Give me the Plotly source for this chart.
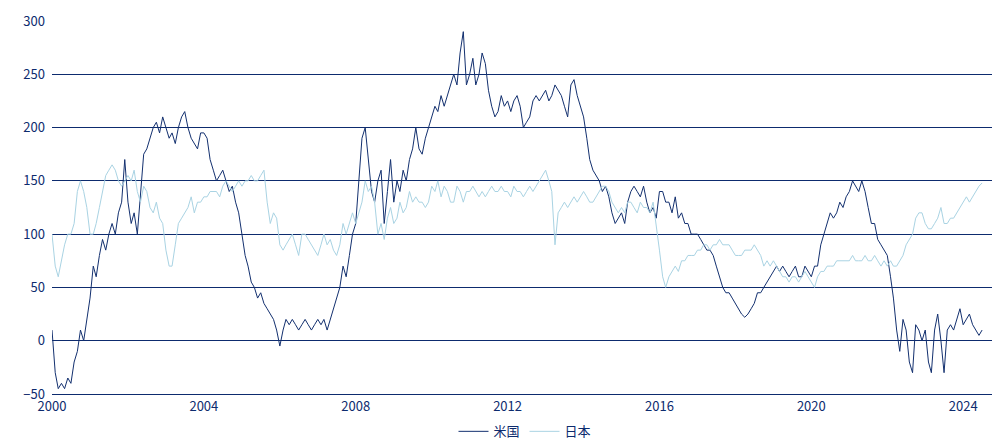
import pandas as pd
import plotly.graph_objects as go

us_values = [
 10,-30,-45,-40,-45,-35,-40,-20,-10,10,0,20,
 40,70,60,80,95,85,100,110,100,120,130,170,
 130,110,120,100,140,175,180,190,200,205,195,210,
 200,190,195,185,200,210,215,200,190,185,180,195,
 195,190,170,160,150,155,160,150,140,145,130,120,
 100,80,70,55,50,40,45,35,30,25,20,10,
 -5,10,20,15,20,15,10,15,20,15,10,15,
 20,15,20,10,20,30,40,50,70,60,80,100,
 110,150,190,200,170,140,130,150,160,110,140,170,
 130,150,140,160,150,170,180,200,180,175,190,200,
 210,220,215,230,220,230,240,250,240,270,290,240,
 250,265,240,250,270,260,235,220,210,215,230,220,
 225,215,225,230,220,200,205,210,225,230,225,230,
 235,225,230,240,235,230,220,210,240,245,230,220,
 210,190,170,160,155,150,140,145,135,120,110,115,
 120,110,130,140,145,140,135,145,130,120,125,115,
 140,140,130,130,120,135,115,120,110,110,100,100,
 100,95,90,85,85,80,70,60,50,45,45,40,
 35,30,25,22,25,30,35,45,45,50,55,60,
 65,70,65,70,65,60,65,70,60,60,70,65,
 60,70,70,90,100,110,120,115,120,130,125,135,
 140,150,145,140,150,140,125,110,110,95,90,85,
 80,60,40,10,-10,20,10,-20,-30,15,10,0,
 10,-20,-30,10,25,0,-30,10,15,10,20,30,
 15,20,25,15,10,5,10]

jp_values = [
 100,70,60,75,90,100,100,110,140,150,140,125,
 100,100,110,125,140,155,160,165,160,150,145,150,
 155,150,160,140,130,145,140,125,120,130,115,110,
 85,70,70,90,110,115,120,125,135,120,130,130,
 135,135,140,140,140,135,145,150,145,140,145,150,
 145,150,150,155,150,150,155,160,130,110,120,115,
 90,85,90,95,100,90,80,100,100,95,90,85,
 80,90,100,90,95,85,80,90,110,100,110,120,
 110,120,130,150,140,145,130,100,110,95,115,125,
 110,115,130,120,125,140,130,135,130,130,125,130,
 145,140,150,135,145,140,130,130,145,140,130,140,
 140,145,140,135,140,135,140,145,140,140,145,140,
 140,135,145,140,140,135,140,145,140,145,150,155,
 160,150,140,90,120,125,130,125,130,135,130,135,
 140,135,130,130,135,140,145,145,140,130,125,120,
 125,120,130,130,125,120,130,125,125,120,130,110,
 85,60,50,60,65,70,65,75,75,80,80,80,
 85,85,90,90,85,90,90,95,90,90,90,85,
 80,80,80,85,85,85,90,85,80,70,75,70,
 75,70,65,60,60,55,60,60,55,60,65,60,
 55,50,60,65,65,70,70,70,75,75,75,75,
 75,80,75,75,75,80,75,75,80,75,70,75,
 70,75,70,70,75,80,90,95,100,115,120,120,
 110,105,105,110,115,125,110,110,115,115,120,125,
 130,135,130,135,140,145,148]

dates = pd.date_range("2000-01-01", periods=len(us_values), freq="MS")
tick_years = ["2000", "2004", "2008", "2012", "2016", "2020", "2024"]

navy = "#0d2b6e"
fig = go.Figure()
fig.add_trace(go.Scatter(x=dates, y=us_values, name="米国", mode="lines",
                         line=dict(color="#13306f", width=1)))
fig.add_trace(go.Scatter(x=dates, y=jp_values, name="日本", mode="lines",
                         line=dict(color="#a9d3e3", width=1)))
fig.update_layout(
    width=1000, height=440, paper_bgcolor="white", plot_bgcolor="white",
    margin=dict(l=44, r=10, t=13, b=54, autoexpand=False),
    font=dict(family="Noto Sans CJK JP", color=navy, size=13),
    legend=dict(orientation="h", x=0.5, xanchor="center", y=-0.06, yanchor="top",
                traceorder="normal", itemwidth=30, font=dict(size=13)),
    xaxis=dict(range=["2000-01-01", "2024-12-01"], tickvals=[f"{y}-01-01" for y in tick_years],
               ticktext=tick_years, showgrid=False, showline=True, linecolor=navy,
               ticks="", zeroline=False, automargin=False),
    yaxis=dict(range=[-50, 300], dtick=50, showgrid=True, gridcolor=navy, gridwidth=1,
               zeroline=True, zerolinecolor=navy, zerolinewidth=1, ticks="",
               ticklabelstandoff=6, automargin=False),
)
fig.write_html("out.html")
